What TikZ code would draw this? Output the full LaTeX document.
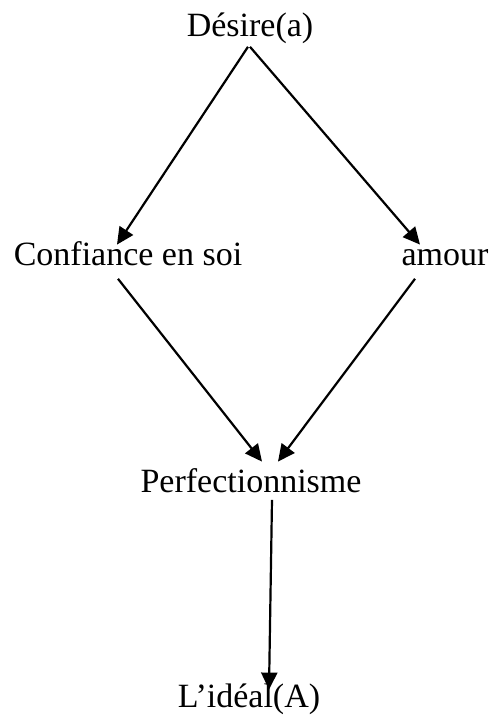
\documentclass[tikz,border=0pt]{standalone}
\usepackage{fontspec}
\setmainfont{Liberation Serif}
\usetikzlibrary{arrows.meta}
\begin{document}
\begin{tikzpicture}[>={Triangle[length=8.5pt,width=8pt]},x=0.5pt,y=-0.5pt,
		mot/.style={inner sep=0pt,anchor=base,text height=12pt,text depth=3.7pt,
			font=\fontsize{17}{20}\selectfont},
		fleche/.style={->,line width=1.1pt}]
		
		\useasboundingbox (0,0) rectangle (491,725);
		
		\node[mot] (desire) at (250,36) {Désire(a)};
		\node[mot] (confiance) at (128,265) {Confiance en soi};
		\node[mot] (amour) at (445,265) {amour};
		\node[mot] (perfection) at (251,492) {Perfectionnisme};
		\node[mot] (ideal) at (249,707) {L’idéal(A)};
		
		\draw[fleche] ([xshift=-1pt,yshift=-1.5pt]desire.south)
		--([xshift=-5.5pt,yshift=-2pt]confiance.north);
		\draw[fleche] ([xshift=0pt,yshift=-1.5pt]desire.south)
		--([xshift=-12.5pt,yshift=-2pt]amour.north);
		
		\draw[fleche] ([xshift=-5pt,yshift=-3pt]confiance.south)
		--([xshift=5.5pt,yshift=3pt]perfection.north);
		\draw[fleche] ([xshift=-15pt,yshift=-3pt]amour.south)
		--([xshift=13.5pt,yshift=3pt]perfection.north);
		
		\draw[fleche] ([xshift=10.5pt]perfection.south)
		--([xshift=10pt,yshift=-3.5pt]ideal.north);
	\end{tikzpicture}
\end{document}
